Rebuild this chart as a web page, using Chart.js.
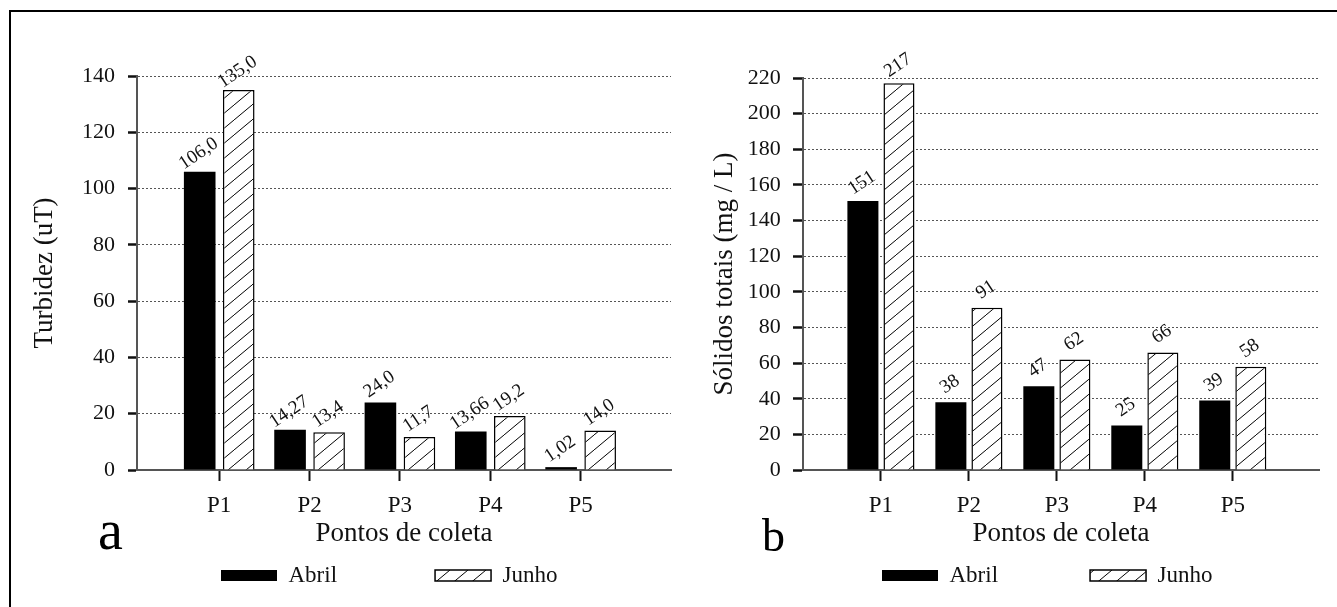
<!DOCTYPE html>
<html>
<head>
<meta charset="utf-8">
<script src="https://cdn.jsdelivr.net/npm/chart.js@4.4.1/dist/chart.umd.min.js"></script>
<style>
  html, body { margin: 0; padding: 0; background: #fff; }
  body { position: relative; width: 1337px; height: 607px; overflow: hidden; font-family: 'Liberation Serif', 'Times New Roman', serif; }
  #frame { position: absolute; left: 9px; top: 10px; width: 1400px; height: 700px; border-left: 2px solid #000; border-top: 2px solid #000; }
  canvas { position: absolute; top: 0; }
  #chartA { left: 0; }
  #chartB { left: 680px; }
  .tag { position: absolute; line-height: 1; color: #000; }
</style>
</head>
<body>
<div id="frame"></div>
<canvas id="chartA" width="680" height="607"></canvas>
<canvas id="chartB" width="657" height="607"></canvas>
<div class="tag" style="left:98px; top:502px; font-size:56px;">a</div>
<div class="tag" style="left:762px; top:513px; font-size:46px;">b</div>

<script>
// data
var categories = ['P1', 'P2', 'P3', 'P4', 'P5'];
var seriesNames = ['Abril', 'Junho'];

var turbAbril = [106.0, 14.27, 24.0, 13.66, 1.02];
var turbJunho = [135.0, 13.4, 11.7, 19.2, 14.0];
var turbAbrilText = ['106,0', '14,27', '24,0', '13,66', '1,02'];
var turbJunhoText = ['135,0', '13,4', '11,7', '19,2', '14,0'];
var turbTicks = [0, 20, 40, 60, 80, 100, 120, 140];

var solAbril = [151, 38, 47, 25, 39];
var solJunho = [217, 91, 62, 66, 58];
var solAbrilText = ['151', '38', '47', '25', '39'];
var solJunhoText = ['217', '91', '62', '66', '58'];
var solTicks = [0, 20, 40, 60, 80, 100, 120, 140, 160, 180, 200, 220];

var serif = "'Liberation Serif', 'Times New Roman', serif";
Chart.defaults.font.family = serif;
Chart.defaults.color = '#111';

// diagonal hatch for Junho
function makeHatch() {
  var w = 18, h = 15;
  var c = document.createElement('canvas');
  c.width = w; c.height = h;
  var g = c.getContext('2d');
  g.fillStyle = '#fff';
  g.fillRect(0, 0, w, h);
  g.strokeStyle = '#000';
  g.lineWidth = 1;
  g.beginPath();
  g.moveTo(0, h); g.lineTo(w, 0);
  g.moveTo(-w, h); g.lineTo(0, 0);
  g.moveTo(w, h); g.lineTo(2 * w, 0);
  g.stroke();
  return g.createPattern(c, 'repeat');
}
var hatch = makeHatch();

// rotated value labels above the bars
var barValueLabels = {
  id: 'barValueLabels',
  afterDatasetsDraw: function(chart, args, opts) {
    var ctx = chart.ctx;
    ctx.save();
    ctx.font = opts.size + 'px ' + serif;
    ctx.fillStyle = '#111';
    ctx.textAlign = 'center';
    ctx.textBaseline = 'middle';
    chart.data.datasets.forEach(function(ds, di) {
      chart.getDatasetMeta(di).data.forEach(function(bar, i) {
        ctx.save();
        ctx.translate(bar.x + opts.dx, bar.y - opts.dy);
        ctx.rotate(-opts.angle * Math.PI / 180);
        ctx.fillText(ds.valueLabels[i], 0, 0);
        ctx.restore();
      });
    });
    ctx.restore();
  }
};

function toPoints(arr) {
  return arr.map(function(v, i) { return { x: i + 1, y: v }; });
}

function buildChart(id, o) {
  return new Chart(document.getElementById(id), {
    type: 'bar',
    data: {
      datasets: [
        { label: seriesNames[0], data: toPoints(o.abril), valueLabels: o.abrilText,
          backgroundColor: '#000', borderColor: '#000', borderWidth: 0,
          categoryPercentage: o.catPct, barPercentage: o.barPct },
        { label: seriesNames[1], data: toPoints(o.junho), valueLabels: o.junhoText,
          backgroundColor: hatch, borderColor: '#000', borderWidth: 1.5,
          categoryPercentage: o.catPct, barPercentage: o.barPct }
      ]
    },
    plugins: [barValueLabels],
    options: {
      responsive: false,
      animation: false,
      events: [],
      layout: { padding: o.pad },
      plugins: {
        tooltip: { enabled: false },
        barValueLabels: { size: 19, angle: 34, dx: -1, dy: 18 },
        legend: {
          position: 'bottom',
          align: 'start',
          // empty title only used as a vertical spacer
          title: { display: true, text: '', font: { size: 10 }, padding: { top: 0, bottom: o.legendShift } },
          labels: {
            boxWidth: 56, boxHeight: 11, padding: o.legendGap,
            color: '#111', font: { size: 23, family: serif }
          }
        }
      },
      scales: {
        x: {
          type: 'linear',
          position: { y: 0 },
          min: o.xMin, max: o.xMax,
          offset: false,
          bounds: 'data',
          afterBuildTicks: function(s) { s.ticks = categories.map(function(c, i) { return { value: i + 1 }; }); },
          afterFit: function(s) { s.height = 100; },
          ticks: {
            autoSkip: false, maxRotation: 0, minRotation: 0, padding: 12,
            color: '#111', font: { size: 23 },
            callback: function(v) { return categories[v - 1]; }
          },
          grid: { offset: false, drawOnChartArea: false, drawTicks: true, tickLength: 10, tickColor: '#111', tickWidth: 2 },
          border: { display: true, color: '#555', width: 2 },
          title: { display: true, text: 'Pontos de coleta', color: '#111', font: { size: 27 }, padding: { top: 0, bottom: 20 } }
        },
        y: {
          position: 'left',
          min: 0, max: o.yTicks[o.yTicks.length - 1],
          afterBuildTicks: function(s) { s.ticks = o.yTicks.map(function(v) { return { value: v }; }); },
          afterFit: function(s) { s.width = o.yWidth; },
          ticks: { mirror: true, crossAlign: 'far', padding: o.yTickPad, color: '#111', font: { size: 22 } },
          grid: { color: '#555', lineWidth: 1, drawTicks: true, tickLength: o.yTickLen, tickColor: '#111', tickWidth: 2.5 },
          border: { display: true, color: '#555', width: 2, dash: [2, 2] },
          title: { display: true, text: o.yTitle, color: '#111', font: { size: 27 }, padding: { top: o.yTitlePad, bottom: 0 } }
        }
      }
    }
  });
}

buildChart('chartA', {
  abril: turbAbril, junho: turbJunho, abrilText: turbAbrilText, junhoText: turbJunhoText,
  yTicks: turbTicks, yTitle: 'Turbidez (uT)',
  xMin: 0.09, xMax: 6.0, catPct: 0.864, barPct: 0.81,
  pad: { left: 123, right: 9, top: 76, bottom: 10 },
  legendGap: 98, legendShift: -16,
  yWidth: 14, yTickPad: -55, yTickLen: 9, yTitlePad: -94.2
});

buildChart('chartB', {
  abril: solAbril, junho: solJunho, abrilText: solAbrilText, junhoText: solJunhoText,
  yTicks: solTicks, yTitle: 'Sólidos totais (mg / L)',
  xMin: 0.114, xMax: 5.98, catPct: 0.82, barPct: 0.86,
  pad: { left: 110, right: 18, top: 78, bottom: 10 },
  legendGap: 92, legendShift: -10,
  yWidth: 13, yTickPad: -55.2, yTickLen: 10, yTitlePad: -81.2
});
</script>
</body>
</html>
